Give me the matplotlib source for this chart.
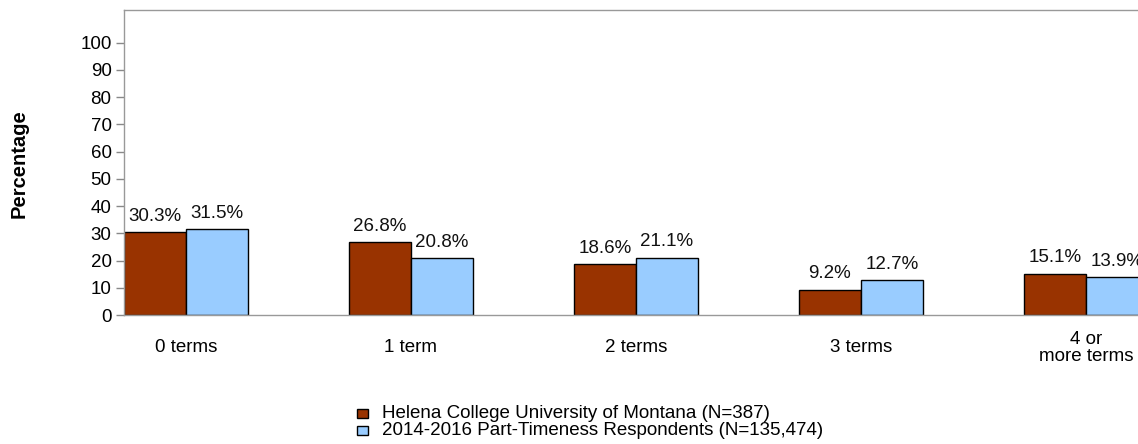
import matplotlib
matplotlib.use("Agg")
import matplotlib.pyplot as plt
from matplotlib.patches import Rectangle
import numpy as np

categories = ["0 terms", "1 term", "2 terms", "3 terms", "4 or\nmore terms"]
helena = [30.3, 26.8, 18.6, 9.2, 15.1]
national = [31.5, 20.8, 21.1, 12.7, 13.9]
series_names = ["Helena College University of Montana (N=387)",
                "2014-2016 Part-Timeness Respondents (N=135,474)"]
yticks = list(range(0, 101, 10))

W, H = 1138, 444
fig = plt.figure(figsize=(W / 100, H / 100), dpi=100)
plt.rcParams['font.family'] = ['Liberation Sans', 'DejaVu Sans']
FS = 13.5

left_px, right_px, top_px, bottom_px = 124, 1160, 10, 315
ax = fig.add_axes([left_px / W, 1 - bottom_px / H, (right_px - left_px) / W, (bottom_px - top_px) / H])

bw = 62 / 225
x = np.arange(len(categories))
c1, c2 = "#993300", "#99CCFF"
ax.bar(x - bw / 2, helena, bw, color=c1, edgecolor="black", linewidth=1)
ax.bar(x + bw / 2, national, bw, color=c2, edgecolor="black", linewidth=1)

for xs, vals in ((x - bw / 2, helena), (x + bw / 2, national)):
    for xi, v in zip(xs, vals):
        ax.annotate(f"{v}%", (xi, v), xytext=(0, 11.5), textcoords="offset points",
                    ha="center", va="center", fontsize=FS, color="#111111",
                    annotation_clip=False)

ax.set_xlim(-bw, -bw + (right_px - left_px) / 225)
ax.set_ylim(0, 112)
ax.set_yticks(yticks)
ax.set_yticklabels([str(t) for t in yticks], fontsize=FS)
ax.set_xticks(x)
ax.set_xticklabels([])
ax.tick_params(axis="x", length=0)
ax.tick_params(axis="y", length=6, color="#888888", width=1, pad=3)
for s in ["left", "top", "bottom"]:
    ax.spines[s].set_color("#999999")
    ax.spines[s].set_linewidth(1)
ax.spines["right"].set_visible(False)

tr = ax.get_xaxis_transform()
for xi, lab in zip(x, categories):
    ax.text(xi, -(348 - bottom_px) / (bottom_px - top_px), lab, transform=tr,
            ha="center", va="center", fontsize=FS, linespacing=0.95, clip_on=False)

fig.text(19 / W, 1 - 164 / H, "Percentage", rotation=90, ha="center", va="center",
         fontsize=14.5, fontweight="bold")

# legend
for i, (name, col) in enumerate(zip(series_names, [c1, c2])):
    yc = 413 + 17 * i
    fig.patches.append(Rectangle((357 / W, 1 - (yc + 4.5) / H), 11 / W, 9 / H,
                                 transform=fig.transFigure, facecolor=col,
                                 edgecolor="black", linewidth=1))
    fig.text(382 / W, 1 - yc / H, name, ha="left", va="center", fontsize=FS)

fig.savefig("out.png", dpi=100)
